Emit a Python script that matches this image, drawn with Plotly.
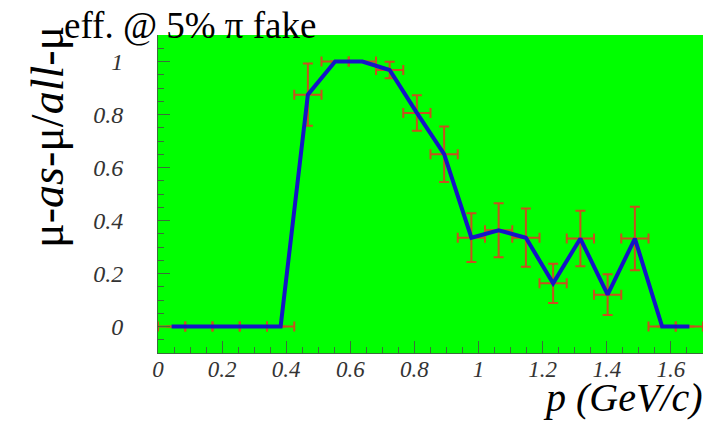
import plotly.graph_objects as go

# bin centres (20 bins of 0.085 GeV/c between 0 and 1.7)
p_centres = [0.0425, 0.1275, 0.2125, 0.2975, 0.3825, 0.4675, 0.5525, 0.6375,
             0.7225, 0.8075, 0.8925, 0.9775, 1.0625, 1.1475, 1.2325, 1.3175,
             1.4025, 1.4875, 1.5725, 1.6575]
p_halfwidth = [0.0425] * 20
efficiency = [0, 0, 0, 0, 0, 0.875, 1.0, 1.0, 0.968, 0.806, 0.65, 0.335,
              0.363, 0.335, 0.163, 0.332, 0.12, 0.332, 0, 0]
eff_error = [0, 0, 0, 0, 0, 0.117, 0, 0, 0.031, 0.067, 0.105, 0.092, 0.102,
             0.11, 0.074, 0.105, 0.077, 0.12, 0, 0]

x_ticks = [0, 0.2, 0.4, 0.6, 0.8, 1.0, 1.2, 1.4, 1.6]
x_tick_text = ["0", "0.2", "0.4", "0.6", "0.8", "1", "1.2", "1.4", "1.6"]
y_ticks = [0, 0.2, 0.4, 0.6, 0.8, 1.0]
y_tick_text = ["0", "0.2", "0.4", "0.6", "0.8", "1"]

ERR_COLOR = "rgb(200,80,30)"
LINE_COLOR = "#1414c8"
AXIS_COLOR = "rgb(60,110,60)"
SERIF = "Liberation Serif"

fig = go.Figure()
fig.add_trace(go.Scatter(
    x=p_centres, y=efficiency, mode="markers",
    marker=dict(size=1, color=ERR_COLOR, opacity=0),
    error_x=dict(type="data", array=p_halfwidth, color=ERR_COLOR, thickness=2, width=5),
    error_y=dict(type="data", array=eff_error, color=ERR_COLOR, thickness=2, width=5),
    showlegend=False, hoverinfo="skip",
))
fig.add_trace(go.Scatter(
    x=p_centres, y=efficiency, mode="lines",
    line=dict(color=LINE_COLOR, width=4),
    showlegend=False,
))

W, H = 709, 422
L, R, T, B = 158, 6, 35, 69
pw, ph = W - L - R, H - T - B

def px(x):
    return (x - L) / pw

def py(y):
    return (H - B - y) / ph

fig.update_layout(
    width=W, height=H,
    margin=dict(l=L, r=R, t=T, b=B),
    paper_bgcolor="white",
    plot_bgcolor="#00ff00",
    xaxis=dict(
        range=[0, 1.7], tickmode="array", tickvals=x_ticks, ticktext=x_tick_text,
        ticks="inside", ticklen=12, tickwidth=1, tickcolor=AXIS_COLOR,
        minor=dict(dtick=0.05, ticks="inside", ticklen=6, tickcolor=AXIS_COLOR, showgrid=False),
        showgrid=False, zeroline=False, showline=True, linecolor=AXIS_COLOR, linewidth=1,
        tickfont=dict(family=SERIF, size=23, color="#333333", style="italic"),
        ticklabelstandoff=-5,
    ),
    yaxis=dict(
        range=[-0.1, 1.1], tickmode="array", tickvals=y_ticks, ticktext=y_tick_text,
        ticks="inside", ticklen=12, tickwidth=1, tickcolor=AXIS_COLOR,
        minor=dict(dtick=0.05, ticks="inside", ticklen=6, tickcolor=AXIS_COLOR, showgrid=False),
        showgrid=False, zeroline=False, showline=True, linecolor=AXIS_COLOR, linewidth=1,
        tickfont=dict(family=SERIF, size=24, color="#333333", style="italic"),
        ticklabelstandoff=29,
    ),
    annotations=[
        dict(text="eff. @ 5% π fake", xref="paper", yref="paper",
             x=px(62), y=py(25), xanchor="left", yanchor="middle", showarrow=False,
             font=dict(family=SERIF, size=37, color="black")),
        dict(text="μ-<i>as</i>-μ/<i>all</i>-μ", xref="paper", yref="paper",
             x=px(47), y=py(137), xanchor="center", yanchor="middle", showarrow=False,
             textangle=-90,
             font=dict(family=SERIF, size=46, color="black")),
        dict(text="<i>p (GeV/c)</i>", xref="paper", yref="paper",
             x=px(705), y=py(397), xanchor="right", yanchor="middle", showarrow=False,
             font=dict(family=SERIF, size=40, color="black")),
    ],
)

fig.write_html("out.html", post_script="document.body.style.margin='0px';",
               config={"displayModeBar": False})
